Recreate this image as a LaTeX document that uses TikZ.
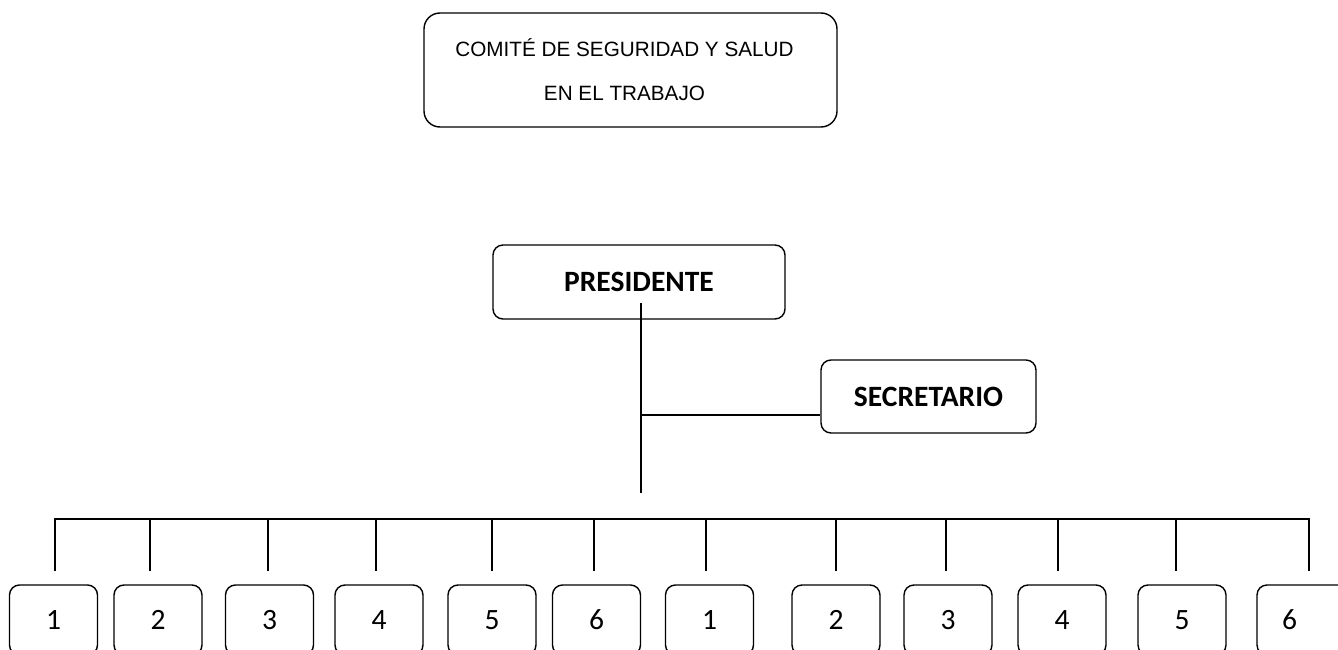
\documentclass[tikz,border=0pt]{standalone}
\usepackage{fontspec}
\setmainfont{Carlito}
\newfontfamily\arialf{Liberation Sans}
\begin{document}
\begin{tikzpicture}[x=1pt,y=-1pt,
  box/.style={draw, line width=1.4pt, rounded corners=10pt, inner sep=0pt},
  ln/.style={line width=1.4pt},
  numbox/.style={box, minimum width=88pt, minimum height=70pt, font=\fontsize{29.5}{31}\selectfont},
  headbox/.style={box, minimum height=74pt, font=\bfseries\fontsize{29.5}{31}\selectfont}]
\useasboundingbox (0,0) rectangle (1338,650);
\clip (0,0) rectangle (1338,650);
% title
\node[box, rounded corners=16pt, minimum width=413pt, minimum height=114pt, align=center,
      font=\arialf\fontsize{20.7}{44}\selectfont] (comite) at (630.5,70)
      {COMITÉ DE SEGURIDAD Y SALUD\hspace*{12pt}\\EN EL TRABAJO\hspace*{12pt}};
% president and secretary
\node[headbox, minimum width=292pt] (pres) at (639,282) {PRESIDENTE};
\node[headbox, minimum width=215pt, minimum height=73pt] (sec) at (928.5,396.5) {SECRETARIO};
\coordinate (ptop) at (641,303);
\coordinate (pbot) at (641,493);
\coordinate (tee) at (641,415);
\draw[ln] (ptop) -- (pbot);
\draw[ln] (tee) -- (tee -| sec.west);
% bottom boxes
\foreach \i/\cx/\t in {1/53.5/1, 2/158/2, 3/269.5/3, 4/379/4, 5/492/5, 6/596.5/6,
                       7/709.5/1, 8/836/2, 9/948/3, 10/1062/4, 11/1182/5} {
  \node[numbox] (b\i) at (\cx,620) {\t};
}
\node[numbox, text width=60pt, inner xsep=25pt, align=left] (b12) at (1312,620) {6};
% bus and drops
\foreach \i/\dx in {1/55, 2/150, 3/268, 4/376, 5/492, 6/594, 7/706, 8/836, 9/946, 10/1058, 11/1176, 12/1309} {
  \coordinate (e\i) at (\dx,571);
  \coordinate (t\i) at (\dx,519);
}
\draw[ln] (e1) -- (t1) -- (t12) -- (e12);
\foreach \i in {2,...,11} {
  \draw[ln] (t\i) -- (e\i);
}
\end{tikzpicture}
\end{document}
